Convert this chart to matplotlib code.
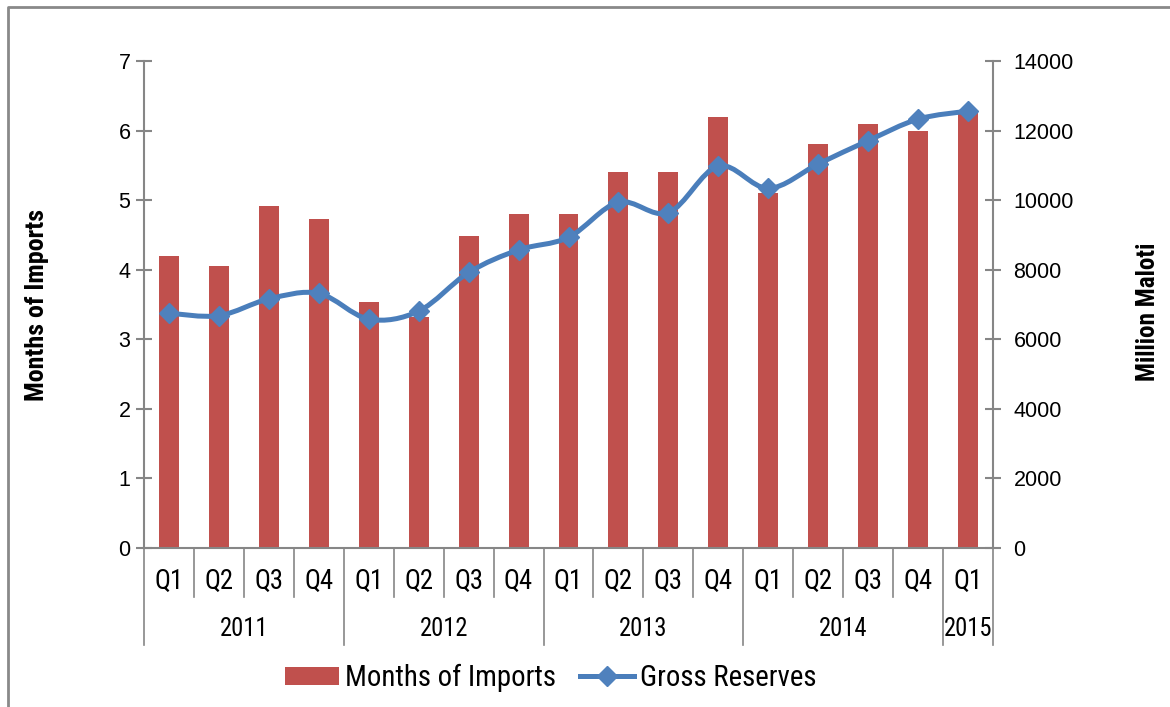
import matplotlib
matplotlib.use("Agg")
import matplotlib.pyplot as plt
from matplotlib.path import Path
from matplotlib.patches import PathPatch, Rectangle
from matplotlib.lines import Line2D
import matplotlib.transforms as mtransforms
import numpy as np

# ---------------- data ----------------
quarters = ["Q1", "Q2", "Q3", "Q4", "Q1", "Q2", "Q3", "Q4", "Q1", "Q2", "Q3", "Q4",
            "Q1", "Q2", "Q3", "Q4", "Q1"]
years = ["2011", "2012", "2013", "2014", "2015"]
year_counts = [4, 4, 4, 4, 1]
months_of_imports = [4.20, 4.06, 4.92, 4.73, 3.54, 3.32, 4.49, 4.80, 4.80, 5.40, 5.40,
                     6.20, 5.10, 5.80, 6.10, 6.00, 6.28]
gross_reserves = [6750, 6680, 7160, 7320, 6580, 6810, 7920, 8570, 8930, 9940, 9640,
                  10980, 10340, 11040, 11710, 12330, 12560]
left_ticks = [0, 1, 2, 3, 4, 5, 6, 7]
right_ticks = [0, 2000, 4000, 6000, 8000, 10000, 12000, 14000]

BAR = "#C0504D"
LINE = "#4A7EBB"
MARK = "#4F81BD"
GRAY = "#868686"
NARROW = ["Roboto Condensed", "PT Sans Narrow", "Liberation Sans", "DejaVu Sans"]
ARIAL = ["Liberation Sans", "DejaVu Sans"]

W, H = 1170, 707
fig = plt.figure(figsize=(W / 100, H / 100), dpi=100)
renderer = fig.canvas.get_renderer()


def fit(txt, target_px):
    """Scale a text's font size so that its rendered width matches target_px."""
    bb = txt.get_window_extent(renderer)
    w = bb.height if txt.get_rotation() in (90, 270) else bb.width
    txt.set_fontsize(txt.get_fontsize() * target_px / w)
    return txt.get_fontsize()


L, R, T, B = 144, 993, 61, 548
ax = fig.add_axes([L / W, 1 - B / H, (R - L) / W, (B - T) / H])
ax2 = ax.twinx()

x = np.arange(len(quarters))
ax.bar(x, months_of_imports, width=0.4, color=BAR, zorder=2)
ax.set_xlim(-0.5, len(quarters) - 0.5)
ax.set_ylim(0, 7)
ax2.set_ylim(0, 14000)
ax.set_yticks(left_ticks)
ax2.set_yticks(right_ticks)

# smoothed line (Bezier through data points, Excel-like)
xs = list(x.astype(float))
ys = list(gross_reserves)
n = len(xs)
verts = [(xs[0], ys[0])]
codes = [Path.MOVETO]
for i in range(n - 1):
    x0, y0 = (xs[i - 1], ys[i - 1]) if i > 0 else (xs[i], ys[i])
    x3, y3 = (xs[i + 2], ys[i + 2]) if i + 2 < n else (xs[i + 1], ys[i + 1])
    c1 = (xs[i] + (xs[i + 1] - x0) / 6, ys[i] + (ys[i + 1] - y0) / 6)
    c2 = (xs[i + 1] - (x3 - xs[i]) / 6, ys[i + 1] - (y3 - ys[i]) / 6)
    verts += [c1, c2, (xs[i + 1], ys[i + 1])]
    codes += [Path.CURVE4] * 3
ax2.add_patch(PathPatch(Path(verts, codes), facecolor="none", edgecolor=LINE,
                        lw=3.6, capstyle="round", joinstyle="round", zorder=3))
ax2.plot(xs, ys, linestyle="none", marker="D", ms=10.5, color=MARK,
         markeredgecolor=MARK, zorder=4)

# axes styling
for a in (ax, ax2):
    for s in a.spines.values():
        s.set_visible(False)
for a, side in ((ax, "left"), (ax2, "right"), (ax, "bottom")):
    a.spines[side].set_visible(True)
    a.spines[side].set_color(GRAY)
    a.spines[side].set_linewidth(1.5)

ax.tick_params(axis="y", direction="inout", length=11.5, width=1.5, color=GRAY,
               labelsize=15.5, pad=4)
ax2.tick_params(axis="y", direction="inout", length=11.5, width=1.5, color=GRAY,
                labelsize=15.5, pad=9)
for lab in ax.get_yticklabels() + ax2.get_yticklabels():
    lab.set_family(ARIAL)
ax.set_xticks([])

# multi-level category axis
bt = mtransforms.blended_transform_factory(ax.transData, ax.transAxes)
ah = (B - T)
q_bot = -(597 - B) / ah
y_bot = -(645 - B) / ah
q_lab = -(581 - B) / ah
y_lab = -(629 - B) / ah
year_bounds = np.cumsum([0] + year_counts)
for k in range(len(quarters) + 1):
    xb = k - 0.5
    bottom = y_bot if k in year_bounds else q_bot
    ax.add_line(Line2D([xb, xb], [0, bottom], transform=bt, color=GRAY, lw=1.2,
                       clip_on=False))
qtexts = [ax.text(i, q_lab, q, transform=bt, ha="center", va="center", fontsize=18,
                  family=NARROW) for i, q in enumerate(quarters)]
qs = fit(qtexts[0], 29)
for t in qtexts:
    t.set_fontsize(qs)
ytexts = []
for j, yr in enumerate(years):
    c = (year_bounds[j] + year_bounds[j + 1] - 1) / 2
    ytexts.append(ax.text(c, y_lab, yr, transform=bt, ha="center", va="center",
                          fontsize=18.5, family=NARROW))
ysz = fit(ytexts[0], 49)
for t in ytexts:
    t.set_fontsize(ysz)

# axis titles
t1 = fig.text(37 / W, 1 - 305 / H, "Months of Imports", rotation=90, ha="center",
              va="center", fontsize=18.5, fontweight="bold", family=NARROW)
fit(t1, 192)
t2 = fig.text(1148 / W, 1 - 312 / H, "Million Maloti", rotation=90, ha="center",
              va="center", fontsize=18.5, fontweight="bold", family=NARROW)
fit(t2, 139)

# legend (font size fitted to the reference text width)
probe = fig.text(0, 0, "Months of Imports", fontsize=23, family=NARROW)
lsz = fit(probe, 212)
probe.remove()
h1 = Rectangle((0, 0), 1, 1, facecolor=BAR, edgecolor="none")
h2 = Line2D([], [], color=LINE, lw=3.6, marker="D", ms=10, markerfacecolor=MARK,
            markeredgecolor=MARK)
px = lsz * 100 / 72
leg = fig.legend([h1, h2], ["Months of Imports", "Gross Reserves"], loc="center",
                 bbox_to_anchor=(551 / W, 1 - 678 / H), ncol=2, frameon=False,
                 prop={"family": NARROW, "size": lsz}, handlelength=54 / px,
                 handleheight=17 / px, handletextpad=6 / px, columnspacing=24 / px,
                 borderpad=0, borderaxespad=0)

# outer chart frame (left and top edges visible)
fig.add_artist(Line2D([8 / W, 8 / W, 1.0], [0, 1 - 7 / H, 1 - 7 / H],
                      transform=fig.transFigure, color="#898989", lw=2))

fig.savefig("out.png", dpi=100, facecolor="white")
